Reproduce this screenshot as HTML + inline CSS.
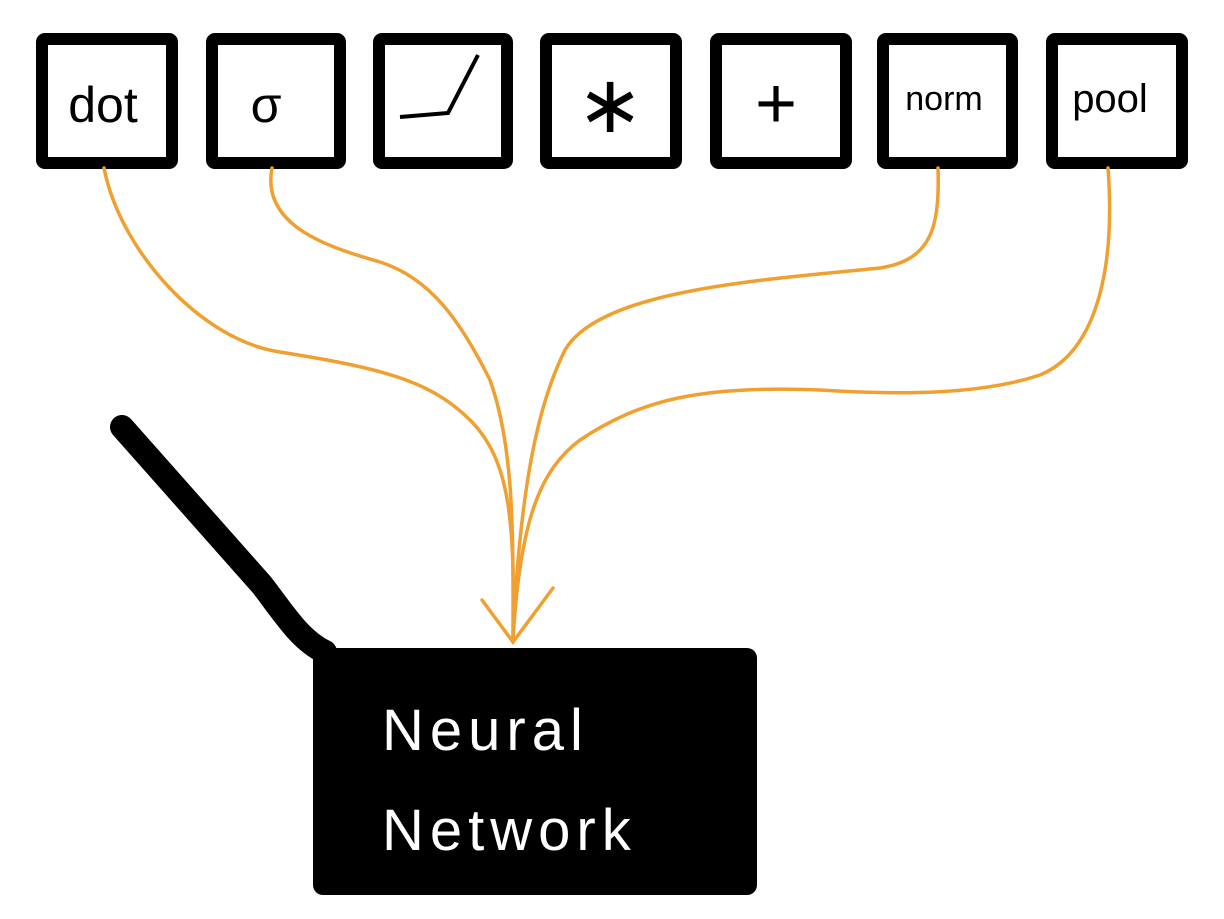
<!DOCTYPE html>
<html><head><style>
body{margin:0;background:#fff;width:1224px;height:914px;overflow:hidden}
</style></head><body>
<svg width="1224" height="914" viewBox="0 0 1224 914" xmlns="http://www.w3.org/2000/svg" font-family="Liberation Sans, sans-serif">
<g fill="#fff" stroke="#000" stroke-width="12">
<rect x="42" y="39" width="130" height="124" rx="3"/>
<rect x="212" y="39" width="128" height="124" rx="3"/>
<rect x="379" y="39" width="128" height="124" rx="3"/>
<rect x="546" y="39" width="130" height="124" rx="3"/>
<rect x="716" y="39" width="130" height="124" rx="3"/>
<rect x="883" y="39" width="129" height="124" rx="3"/>
<rect x="1052" y="39" width="130" height="124" rx="3"/>
</g>
<g fill="#000" text-anchor="middle">
<text x="103" y="122" font-size="50">dot</text>
<text x="266" y="122" font-size="50">σ</text>
<text x="610" y="132" font-size="80" font-family="DejaVu Sans, sans-serif">∗</text>
<text x="776" y="128" font-size="72">+</text>
<text x="944" y="110" font-size="34">norm</text>
<text x="1110" y="112" font-size="40">pool</text>
</g>
<path d="M400 117 L448 113 L478 55" fill="none" stroke="#000" stroke-width="4"/>
<g fill="none" stroke="#f0a030" stroke-width="3.5" stroke-linecap="round">
<path d="M104 168 C120 250 200 340 280 352 C380 368 430 380 470 420 C510 460 515 520 513 640"/>
<path d="M272 168 C260 230 340 250 380 262 C430 278 460 320 490 380 C515 450 513 540 513 640"/>
<path d="M938 168 C940 230 930 260 880 268 C760 280 600 290 565 350 C540 400 520 480 513 640"/>
<path d="M1108 168 C1115 260 1100 350 1040 375 C980 395 900 395 820 390 C700 385 640 400 580 440 C540 470 520 520 513 640"/>
<path d="M482 600 L513 642 L553 588"/>
</g>
<path d="M122 427 L262 585 C285 615 300 640 325 652" fill="none" stroke="#000" stroke-width="24" stroke-linecap="round"/>
<rect x="313" y="648" width="444" height="247" rx="10" fill="#000"/>
<g fill="#fff" font-size="58" letter-spacing="6">
<text x="382" y="750">Neural</text>
<text x="382" y="850">Network</text>
</g>
</svg>
</body></html>
